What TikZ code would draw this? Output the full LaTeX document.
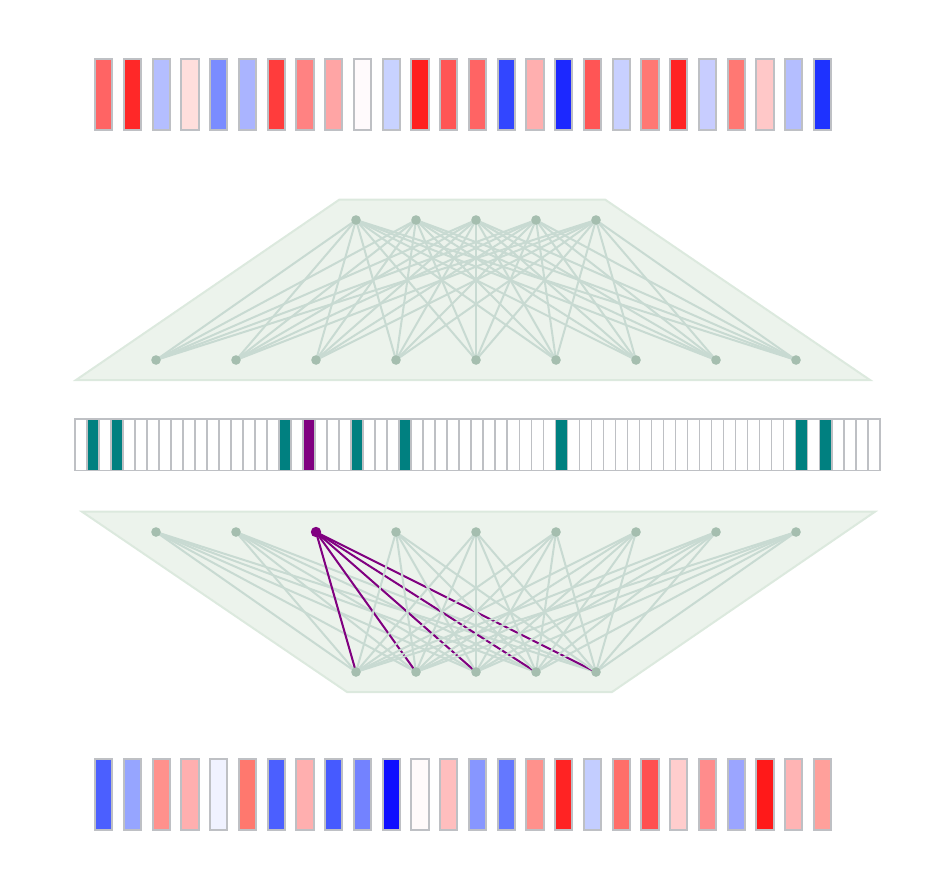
\documentclass[tikz,border=0pt]{standalone}
\usetikzlibrary{backgrounds}
\definecolor{edgec}{RGB}{200,218,210}
\definecolor{nodec}{RGB}{165,190,175}
\definecolor{trapfill}{RGB}{236,243,236}
\definecolor{trapline}{RGB}{220,233,222}
\definecolor{barline}{RGB}{190,192,196}
\definecolor{tealc}{RGB}{0,128,128}
\definecolor{purp}{RGB}{128,0,128}
\pgfdeclarelayer{edges}
\pgfsetlayers{background,edges,main}
\tikzset{
  bar/.style={draw=barline, line width=1.5pt, inner sep=0pt, minimum width=13pt, minimum height=53.5pt},
  cell/.style={draw=barline, line width=1.3pt, inner sep=0pt, minimum width=9.01pt, minimum height=38.5pt},
  nn/.style={circle, fill=nodec, inner sep=0pt, minimum size=7.2pt},
  pn/.style={circle, fill=purp, inner sep=0pt, minimum size=7.8pt},
  edge/.style={draw=edgec, line width=1.5pt},
  pedge/.style={draw=purp, line width=1.5pt},
  trap/.style={fill=trapfill, draw=trapline, line width=1.5pt}
}
\begin{document}
\begin{tikzpicture}[x=0.75pt, y=-0.75pt]
\useasboundingbox (0,0) rectangle (942,890);
% top bars
\foreach \r/\g/\b [count=\i from 0] in {
255/100/100, 255/40/40, 180/190/255, 255/222/220, 122/140/255, 170/180/255,
255/60/60, 255/130/130, 255/165/165, 255/250/252, 200/210/255, 255/32/32,
255/85/85, 255/100/100, 50/70/255, 255/175/175, 28/40/255, 255/85/85,
200/208/255, 255/120/115, 255/35/35, 200/205/255, 255/120/115, 255/200/200,
180/190/255, 30/50/255} {
  \definecolor{tmpc}{RGB}{\r,\g,\b}
  \node[bar, fill=tmpc] (t\i) at (103.7+28.75*\i, 94.7) {};
}
% bottom bars
\foreach \r/\g/\b [count=\i from 0] in {
75/95/255, 150/165/255, 255/145/140, 255/175/175, 240/242/255, 255/120/110,
75/95/255, 255/175/175, 70/90/255, 115/130/255, 15/15/255, 255/250/250,
255/190/190, 135/150/255, 100/120/255, 255/145/140, 255/35/35, 195/205/255,
255/110/105, 255/80/80, 255/205/205, 255/140/140, 155/165/255, 255/25/25,
255/180/180, 255/160/155} {
  \definecolor{tmpc}{RGB}{\r,\g,\b}
  \node[bar, fill=tmpc] (u\i) at (103.7+28.75*\i, 794.7) {};
}
% middle strip
\foreach \i in {0,...,66} {
  \node[cell, fill=white] (m\i) at (75+12.01*\i+6.005, 444.8) {};
}
\foreach \i in {1,3,17,23,27,40,60,62} {
  \node[cell, fill=tealc] at (m\i) {};
}
\node[cell, fill=purp] at (m19) {};
% top network
\begin{scope}[on background layer]
  \path[trap] (339.5,199.5) -- (605,199.5) -- (870,380) -- (76,380) -- cycle;
  \path[trap] (82,511.7) -- (875,511.7) -- (612,692) -- (347,692) -- cycle;
\end{scope}
\foreach \i in {1,...,5} {
  \node[nn] (a\i) at (356+60*\i-60, 220) {};
  \node[nn] (d\i) at (356+60*\i-60, 672) {};
}
\foreach \j in {1,...,9} {
  \node[nn] (b\j) at (156+80*\j-80, 360) {};
}
\foreach \j in {1,2,4,5,6,7,8,9} {
  \node[nn] (c\j) at (156+80*\j-80, 532) {};
}
\node[pn] (c3) at (316, 532) {};
\begin{pgfonlayer}{edges}
  \foreach \i in {1,...,5} {
    \foreach \j in {1,...,9} {
      \path[edge] (a\i.center) -- (b\j.center);
    }
  }
  \foreach \j in {1,...,9} {
    \foreach \i in {1,...,5} {
      \ifnum\j=3
        \path[pedge] (c\j.center) -- (d\i.center);
      \else
        \path[edge] (c\j.center) -- (d\i.center);
      \fi
    }
  }
\end{pgfonlayer}
\end{tikzpicture}
\end{document}
